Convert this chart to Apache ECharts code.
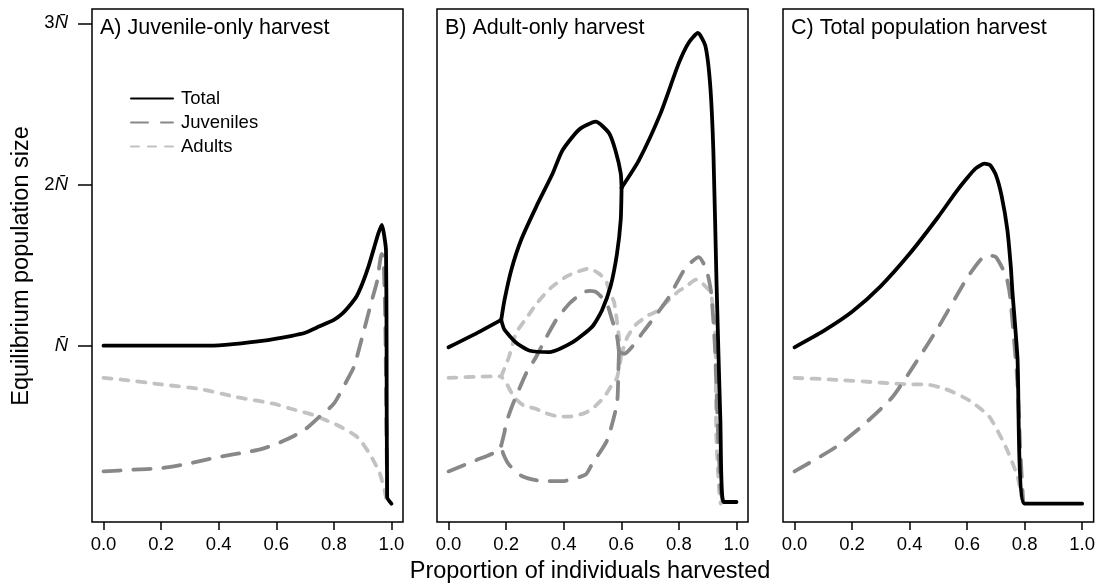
<!DOCTYPE html>
<html>
<head>
<meta charset="utf-8">
<script src="https://cdn.jsdelivr.net/npm/echarts@6/dist/echarts.min.js"></script>
<style>
html,body{margin:0;padding:0;background:#fff;}
#chart{width:1098px;height:588px;}
</style>
</head>
<body>
<div id="chart"></div>
<script>
// ---- data (x = proportion harvested, y = population in units of N-bar) ----
const xTicks = [0, 0.2, 0.4, 0.6, 0.8, 1.0];
const yTicks = [1, 2, 3];
const panelTitles = ['A) Juvenile-only harvest', 'B) Adult-only harvest', 'C) Total population harvest'];
const seriesNames = ['Total', 'Juveniles', 'Adults'];

// Panel A
const aTotal = [[0,1.0],[0.2,1.0],[0.37,1.0],[0.45,1.01],[0.55,1.03],[0.65,1.06],[0.7,1.08],[0.75,1.12],[0.8,1.16],[0.83,1.20],[0.86,1.26],[0.88,1.31],[0.9,1.39],[0.92,1.49],[0.94,1.61],[0.955,1.70],[0.967,1.75],[0.975,1.68],[0.981,1.59],[0.983,1.0],[0.985,0.06],[1.0,0.02]];
const aJuv = [[0,0.22],[0.1,0.23],[0.2,0.24],[0.3,0.27],[0.4,0.31],[0.5,0.34],[0.55,0.36],[0.6,0.39],[0.65,0.43],[0.7,0.48],[0.75,0.56],[0.8,0.64],[0.85,0.80],[0.87,0.87],[0.895,1.03],[0.93,1.27],[0.95,1.40],[0.966,1.57],[0.972,1.55],[0.978,1.2],[0.982,0.6],[0.985,0.05]];
const aAdult = [[0,0.80],[0.062,0.79],[0.2,0.76],[0.338,0.73],[0.465,0.68],[0.59,0.64],[0.648,0.61],[0.728,0.57],[0.82,0.50],[0.883,0.43],[0.924,0.33],[0.959,0.21],[0.976,0.10],[0.985,0.02]];

// Panel B (bistable branches drawn as separate segments)
const bTotalLow = [[0,0.99],[0.09,1.07],[0.183,1.16]];
const bTotalUpper = [[0.183,1.16],[0.194,1.28],[0.218,1.47],[0.253,1.66],[0.304,1.86],[0.362,2.07],[0.395,2.21],[0.453,2.34],[0.511,2.39],[0.557,2.32],[0.58,2.21],[0.598,2.07],[0.601,1.98]];
const bTotalLoop = [[0.601,1.98],[0.598,1.78],[0.585,1.57],[0.563,1.37],[0.533,1.22],[0.5,1.12],[0.43,1.02],[0.35,0.96],[0.28,0.97],[0.234,1.02],[0.194,1.10],[0.183,1.16]];
const bTotalRight = [[0.601,1.98],[0.661,2.15],[0.736,2.44],[0.799,2.75],[0.834,2.88],[0.866,2.94],[0.892,2.86],[0.909,2.61],[0.92,2.19],[0.931,1.37],[0.944,0.54],[0.955,0.03],[1.0,0.03]];

const bJuvLow = [[0,0.22],[0.097,0.29],[0.176,0.35],[0.183,0.38]];
const bJuvUpper = [[0.183,0.38],[0.194,0.46],[0.2,0.52],[0.224,0.64],[0.27,0.83],[0.304,0.93],[0.339,1.05],[0.374,1.16],[0.419,1.26],[0.466,1.33],[0.49,1.34],[0.515,1.33],[0.55,1.26],[0.568,1.16],[0.585,1.06],[0.592,0.96]];
const bJuvLoop = [[0.592,0.96],[0.59,0.85],[0.585,0.64],[0.55,0.41],[0.5,0.27],[0.476,0.20],[0.395,0.16],[0.326,0.16],[0.256,0.19],[0.211,0.26],[0.19,0.33],[0.183,0.38]];
const bJuvRight = [[0.592,0.96],[0.61,0.95],[0.678,1.09],[0.765,1.30],[0.822,1.48],[0.869,1.55],[0.896,1.47],[0.912,1.33],[0.925,1.0],[0.935,0.5],[0.945,0.1],[0.955,0.02]];

const bAdultLow = [[0,0.80],[0.152,0.81],[0.183,0.81]];
const bAdultUpper = [[0.183,0.81],[0.21,0.93],[0.235,1.08],[0.27,1.17],[0.31,1.27],[0.356,1.36],[0.41,1.43],[0.45,1.46],[0.49,1.48],[0.52,1.45],[0.545,1.41],[0.56,1.33],[0.575,1.27],[0.59,1.08],[0.6,0.94]];
const bAdultLoop = [[0.6,0.94],[0.585,0.80],[0.565,0.75],[0.54,0.68],[0.5,0.61],[0.47,0.58],[0.42,0.56],[0.385,0.56],[0.34,0.58],[0.30,0.61],[0.26,0.63],[0.228,0.68],[0.2,0.77],[0.183,0.81]];
const bAdultRight = [[0.6,0.94],[0.62,1.05],[0.65,1.13],[0.695,1.19],[0.72,1.21],[0.8,1.34],[0.82,1.36],[0.86,1.41],[0.88,1.39],[0.91,1.33],[0.92,1.2],[0.927,1.05],[0.93,0.43],[0.94,0.1],[0.945,0.02]];

// Panel C
const cTotal = [[0,0.99],[0.1,1.09],[0.2,1.21],[0.3,1.37],[0.4,1.57],[0.5,1.80],[0.56,1.95],[0.6,2.04],[0.63,2.10],[0.66,2.13],[0.68,2.12],[0.70,2.06],[0.72,1.93],[0.74,1.72],[0.752,1.49],[0.757,1.35],[0.775,0.93],[0.8,0.02],[1.0,0.02]];
const cJuv = [[0,0.22],[0.143,0.37],[0.247,0.52],[0.34,0.68],[0.42,0.89],[0.502,1.12],[0.6,1.42],[0.65,1.54],[0.675,1.56],[0.70,1.55],[0.736,1.43],[0.75,1.30],[0.775,0.77],[0.785,0.35],[0.795,0.03]];
const cAdult = [[0,0.80],[0.13,0.79],[0.305,0.77],[0.4,0.76],[0.455,0.76],[0.527,0.73],[0.608,0.66],[0.677,0.56],[0.735,0.37],[0.775,0.19],[0.79,0.06],[0.8,0.0]];

// ---- styling ----
const FONT = '"Liberation Sans", Arial, Helvetica, sans-serif';
const styles = {
  Total: {color:'#000000', width:3.8, type:'solid'},
  Juveniles: {color:'#888888', width:3.8, type:[17,13]},
  Adults: {color:'#c2c2c2', width:3.8, type:[8,9]}
};
const grids = [
  {left:92, top:9, width:311, height:513},
  {left:437, top:9, width:311, height:513},
  {left:783, top:9, width:312, height:513}
];

function mk(name, gi, data){
  const s = styles[name];
  return {
    name: name, type:'line', xAxisIndex:gi, yAxisIndex:gi, data:data,
    symbol:'none', showSymbol:false, smooth:0.2, animation:false,
    lineStyle:{color:s.color, width:s.width, type:s.type, cap:'round', join:'round'},
    itemStyle:{color:s.color}, z: name==='Total'?5:(name==='Juveniles'?4:3),
    emphasis:{disabled:true}
  };
}

const series = [
  mk('Adults',0,aAdult), mk('Juveniles',0,aJuv), mk('Total',0,aTotal),
  mk('Adults',1,bAdultLow), mk('Adults',1,bAdultUpper), mk('Adults',1,bAdultLoop), mk('Adults',1,bAdultRight),
  mk('Juveniles',1,bJuvLow), mk('Juveniles',1,bJuvUpper), mk('Juveniles',1,bJuvLoop), mk('Juveniles',1,bJuvRight),
  mk('Total',1,bTotalLow), mk('Total',1,bTotalUpper), mk('Total',1,bTotalLoop), mk('Total',1,bTotalRight),
  mk('Adults',2,cAdult), mk('Juveniles',2,cJuv), mk('Total',2,cTotal)
];

const xAxes = grids.map((g,i)=>({
  type:'value', gridIndex:i, min:-0.04, max:1.04, position:'bottom',
  axisLine:{show:false, onZero:false},
  splitLine:{show:false},
  axisTick:{show:true, inside:false, length:8, customValues:xTicks, lineStyle:{color:'#000', width:1.5}},
  axisLabel:{show:true, customValues:xTicks, margin:13, color:'#000', fontSize:18.5, fontFamily:FONT,
    formatter:v=>Number(v).toFixed(1)}
}));
const yAxes = grids.map((g,i)=>({
  type:'value', gridIndex:i, min:-0.094, max:3.089, position:'left',
  axisLine:{show:false, onZero:false},
  splitLine:{show:false},
  axisTick:{show:i===0, inside:false, length:14, customValues:yTicks, lineStyle:{color:'#000', width:1.5}},
  axisLabel:{show:i===0, customValues:yTicks, margin:24, color:'#000', fontSize:18.5, fontFamily:FONT,
    formatter:v=>(v===1?'':String(v))+'{n|N\u0304}',
    rich:{n:{fontStyle:'italic', fontSize:18.5, fontFamily:FONT, color:'#000'}}}
}));

const graphic = [];
panelTitles.forEach((t,i)=>{
  graphic.push({type:'text', left:grids[i].left+8, top:17, silent:true,
    style:{text:t, fill:'#000', fontSize:21.5, fontFamily:FONT}});
});
graphic.push({type:'text', x:590, y:572, silent:true,
  style:{text:'Proportion of individuals harvested', fill:'#000', fontSize:23.5, fontFamily:FONT,
    align:'center', verticalAlign:'middle', textAlign:'center', textVerticalAlign:'middle'}});
graphic.push({type:'text', x:22, y:266, rotation:Math.PI/2, silent:true,
  style:{text:'Equilibrium population size', fill:'#000', fontSize:23.5, fontFamily:FONT,
    align:'center', verticalAlign:'middle', textAlign:'center', textVerticalAlign:'middle'}});

const chart = echarts.init(document.getElementById('chart'), null, {renderer:'canvas'});
chart.setOption({
  animation:false,
  backgroundColor:'#fff',
  grid: grids.map(g=>Object.assign({show:true, borderColor:'#000', borderWidth:1.5, backgroundColor:'transparent', containLabel:false}, g)),
  xAxis: xAxes,
  yAxis: yAxes,
  legend: {
    data: seriesNames, orient:'vertical', left:125, top:84,
    itemWidth:42, itemHeight:14, itemGap:5,
    itemStyle:{color:'rgba(0,0,0,0)', borderColor:'rgba(0,0,0,0)', borderWidth:0, opacity:0},
    textStyle:{fontSize:18.5, fontFamily:FONT, color:'#000', padding:[0,0,0,3]},
    selectedMode:false
  },
  graphic: graphic,
  series: series
});
</script>
</body>
</html>
